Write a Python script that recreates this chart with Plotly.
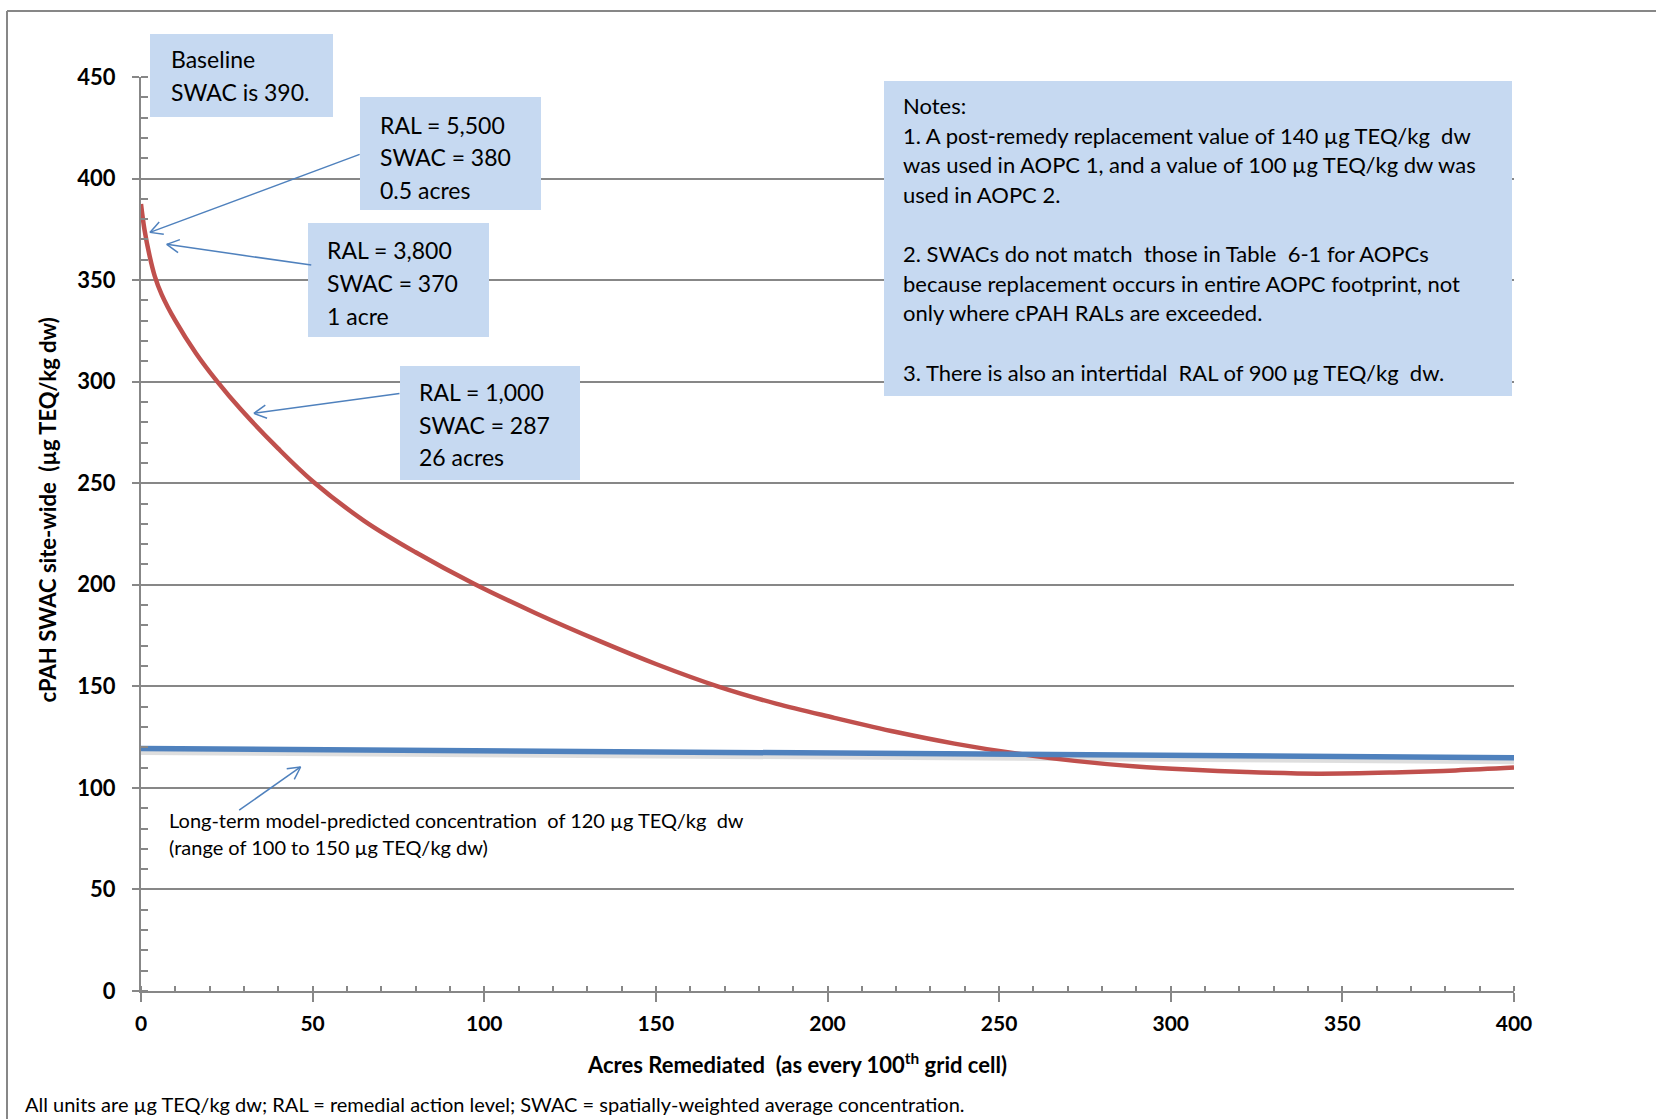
import math
import plotly.graph_objects as go

# ---------------- data ----------------
acres_red = [0, 1, 2.5, 4, 6, 10, 16, 22, 29, 40, 50, 65, 80, 97, 115, 134, 150, 168,
             185, 202, 220, 237, 255, 272, 290, 305, 322, 343, 365, 383, 400]
swac_red = [387.5, 375, 362, 352, 343, 330, 314, 300.5, 286.5, 267, 251, 231.5, 216, 200.5,
            186, 172, 161, 150, 141.5, 134.5, 127.5, 121.8, 116.9, 113.3, 110.5, 109,
            107.8, 107, 107.6, 108.6, 110]

acres_blue = [0, 100, 200, 300, 400]
swac_blue = [119.4, 118.3, 117.2, 116.0, 114.9]

y_ticks = [0, 50, 100, 150, 200, 250, 300, 350, 400, 450]
x_ticks = [0, 50, 100, 150, 200, 250, 300, 350, 400]

box_texts = {
    "baseline": ["Baseline", "SWAC is 390."],
    "ral5500": ["RAL = 5,500", "SWAC = 380", "0.5 acres"],
    "ral3800": ["RAL = 3,800", "SWAC = 370", "1 acre"],
    "ral1000": ["RAL = 1,000", "SWAC = 287", "26 acres"],
}
notes_lines = [
    "Notes:",
    "1. A post-remedy replacement value of 140 µg TEQ/kg  dw",
    "was used in AOPC 1, and a value of 100 µg TEQ/kg dw was",
    "used in AOPC 2.",
    "",
    "2. SWACs do not match  those in Table  6-1 for AOPCs",
    "because replacement occurs in entire AOPC footprint, not",
    "only where cPAH RALs are exceeded.",
    "",
    "3. There is also an intertidal  RAL of 900 µg TEQ/kg  dw.",
]
longterm_lines = ["Long-term model-predicted concentration  of 120 µg TEQ/kg  dw",
                  "(range of 100 to 150 µg TEQ/kg dw)"]
footnote = "All units are µg TEQ/kg dw; RAL = remedial action level; SWAC = spatially-weighted average concentration."

# arrows: (tail_x, tail_y, head_x, head_y) in data units
arrows = [
    (63.7, 411.9, 2.6, 373.5),
    (49.6, 357.4, 7.5, 367.6),
    (75.3, 294.2, 32.9, 284.4),
    (28.6, 89.0, 46.5, 110.3),
]

# ---------------- layout geometry ----------------
W, H = 1656, 1119
ML, MR, MT, MB = 141, 142, 77, 128
PW, PH = W - ML - MR, H - MT - MB
XMAX, YMAX = 400, 450
SHADOW_PX = 3
SHADOW_DY = SHADOW_PX / PH * YMAX

def fx(px):
    return (px - ML) / PW

def fy(py):
    return 1 - (py - MT) / PH

def dpx(x):
    return ML + x / XMAX * PW

def dpy(y):
    return MT + (1 - y / YMAX) * PH

def pdx(px):
    return (px - ML) / PW * XMAX

def pdy(py):
    return (1 - (py - MT) / PH) * YMAX

FONT = "Lato"
GRID = "#878787"
BOXC = "#C6D9F1"
ARROWC = "#4F81BD"

fig = go.Figure()
# soft shadow under the blue line (same series drawn on a slightly shifted hidden axis)
fig.add_trace(go.Scatter(x=acres_blue, y=swac_blue, mode="lines", yaxis="y",
                         line=dict(color="rgba(0,0,0,0.13)", width=7),
                         hoverinfo="skip", showlegend=False))
fig.add_trace(go.Scatter(x=acres_red, y=swac_red, mode="lines", yaxis="y2",
                         line=dict(color="#C0504D", width=4.5, shape="spline", smoothing=1.0),
                         hoverinfo="skip", showlegend=False))
fig.add_trace(go.Scatter(x=acres_blue, y=swac_blue, mode="lines", yaxis="y2",
                         line=dict(color="#4F81BD", width=5.5),
                         hoverinfo="skip", showlegend=False))

shapes = []
annotations = []

# outer chart frame (left and top edges visible)
shapes.append(dict(type="line", xref="paper", yref="paper", x0=fx(7), x1=fx(7), y0=fy(11), y1=fy(H + 5),
                   line=dict(color=GRID, width=2)))
shapes.append(dict(type="line", xref="paper", yref="paper", x0=fx(7), x1=fx(W + 5), y0=fy(11), y1=fy(11),
                   line=dict(color=GRID, width=2)))

def add_box(x0, y0, x1, y1):
    shapes.append(dict(type="rect", xref="paper", yref="paper", x0=fx(x0), x1=fx(x1), y0=fy(y0), y1=fy(y1),
                       fillcolor=BOXC, line=dict(width=0), layer="above"))

def add_lines(lines, left, first_y, spacing, size, color="black"):
    for i, t in enumerate(lines):
        if not t:
            continue
        annotations.append(dict(xref="paper", yref="paper", x=fx(left), y=fy(first_y + i * spacing),
                                xanchor="left", yanchor="middle", showarrow=False, text=t,
                                font=dict(family=FONT, size=size, color=color)))

# boxes (pixel geometry)
add_box(150, 34, 333, 117)
add_lines(box_texts["baseline"], 169, 59, 33, 23)
add_box(360, 97, 541, 210)
add_lines(box_texts["ral5500"], 378, 124.6, 32.8, 23)
add_box(308, 223, 489, 337)
add_lines(box_texts["ral3800"], 325, 250.3, 32.8, 23)
add_box(400, 366, 580, 480)
add_lines(box_texts["ral1000"], 417, 391.8, 32.8, 23)
add_box(884, 81, 1512, 396)
add_lines(notes_lines, 901, 105.6, 29.6, 22)

add_lines(longterm_lines, 167, 819.5, 27.5, 20)
add_lines([footnote], 23, 1103.6, 0, 20)

# arrows with open heads
for tx, ty, hx, hy in arrows:
    shapes.append(dict(type="line", xref="x", yref="y2", x0=tx, y0=ty, x1=hx, y1=hy,
                       line=dict(color=ARROWC, width=1.5), layer="above"))
    ptx, pty, phx, phy = dpx(tx), dpy(ty), dpx(hx), dpy(hy)
    ang = math.atan2(pty - phy, ptx - phx)
    for s in (-1, 1):
        a = ang + s * math.radians(28)
        ex, ey = phx + 14 * math.cos(a), phy + 14 * math.sin(a)
        shapes.append(dict(type="line", xref="x", yref="y2", x0=hx, y0=hy, x1=pdx(ex), y1=pdy(ey),
                           line=dict(color=ARROWC, width=1.5), layer="above"))

# axis titles
annotations.append(dict(xref="paper", yref="paper", x=fx(47.5), y=fy(510), textangle=-90,
                        showarrow=False, xanchor="center", yanchor="middle",
                        text="<b>cPAH SWAC site-wide  (µg TEQ/kg dw)</b>",
                        font=dict(family=FONT, size=22, color="black")))
annotations.append(dict(xref="paper", yref="paper", x=fx(797), y=fy(1063.5),
                        showarrow=False, xanchor="center", yanchor="middle",
                        text="<b>Acres Remediated  (as every 100<sup>th</sup> grid cell)</b>",
                        font=dict(family=FONT, size=22, color="black")))

fig.update_layout(
    width=W, height=H,
    margin=dict(l=ML, r=MR, t=MT, b=MB, pad=0),
    paper_bgcolor="white", plot_bgcolor="white",
    shapes=shapes, annotations=annotations,
    xaxis=dict(range=[0, XMAX], tickvals=x_ticks, ticktext=[str(v) for v in x_ticks],
               showgrid=False, zeroline=False, showline=True, linecolor=GRID, linewidth=2,
               ticks="outside", ticklen=9, tickwidth=1.5, tickcolor=GRID,
               minor=dict(dtick=10, ticks="inside", ticklen=5, tickwidth=1.5, tickcolor=GRID, showgrid=False),
               tickfont=dict(family=FONT, size=21, color="black", weight="bold"),
               ticklabelstandoff=4),
    yaxis=dict(range=[SHADOW_DY, YMAX + SHADOW_DY], visible=False, showgrid=False, zeroline=False),
    yaxis2=dict(range=[0, YMAX], overlaying="y", side="left",
                tickvals=y_ticks, ticktext=[str(v) for v in y_ticks],
                showgrid=True, gridcolor=GRID, gridwidth=1.6, zeroline=False,
                showline=True, linecolor=GRID, linewidth=2,
                ticks="outside", ticklen=7, tickwidth=1.5, tickcolor=GRID,
                minor=dict(dtick=10, ticks="inside", ticklen=7, tickwidth=1.5, tickcolor=GRID, showgrid=False),
                tickfont=dict(family=FONT, size=22, color="black", weight="bold"),
                ticklabelstandoff=12),
)

fig.write_html("out.html", config={"displayModeBar": False},
               post_script="document.body.style.margin='0';document.body.style.overflow='hidden';")
